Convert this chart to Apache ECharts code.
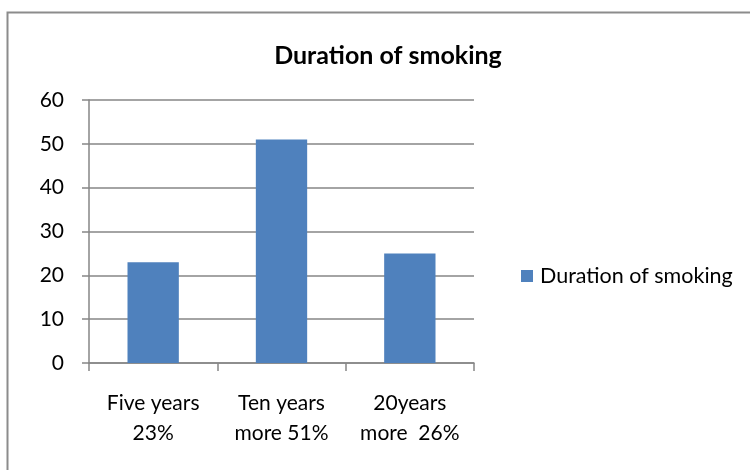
<!DOCTYPE html>
<html>
<head>
<meta charset="utf-8">
<script src="https://cdn.jsdelivr.net/npm/echarts@6/dist/echarts.min.js"></script>
<style>
  html, body { margin: 0; padding: 0; background: #fff; }
  #chart { width: 750px; height: 470px; }
</style>
</head>
<body>
<div id="chart"></div>
<script>
const categories = ['Five years\n23%', 'Ten years\nmore 51%', '20years\nmore  26%']
const seriesName = 'Duration of smoking'
const values = [23, 51, 25]
const yTicks = [0, 10, 20, 30, 40, 50, 60]

const font = 'Lato, "Open Sans", sans-serif'
const chart = echarts.init(document.getElementById('chart'))

chart.setOption({
  animation: false,
  textStyle: { fontFamily: font },
  graphic: [{
    type: 'rect',
    shape: { x: 7.5, y: 12.5, width: 800, height: 500 },
    style: { fill: 'none', stroke: '#8c8c8c', lineWidth: 2 },
    silent: true
  }],
  title: {
    text: seriesName,
    left: 383,
    textAlign: 'center',
    top: 38,
    textStyle: { fontFamily: font, fontSize: 25, fontWeight: 'bold', color: '#000' }
  },
  legend: {
    left: 516,
    top: 260,
    itemWidth: 12,
    itemHeight: 12,
    icon: 'rect',
    itemGap: 8,
    textStyle: { fontFamily: font, fontSize: 21.5, color: '#000', padding: [0, 0, 0, 2] },
    data: [seriesName]
  },
  grid: { left: 89, right: 276, top: 100, bottom: 107 },
  xAxis: {
    type: 'category',
    data: categories,
    axisLine: { lineStyle: { color: '#868686', width: 1.5 } },
    axisTick: { show: true, length: 8, lineStyle: { color: '#868686', width: 1.5 } },
    axisLabel: { fontFamily: font, fontSize: 21, color: '#000', lineHeight: 30, margin: 25, interval: 0 }
  },
  yAxis: {
    type: 'value',
    min: yTicks[0],
    max: yTicks[yTicks.length - 1],
    interval: 10,
    axisLine: { show: true, lineStyle: { color: '#868686', width: 1.5 } },
    axisTick: { show: true, length: 7, lineStyle: { color: '#868686', width: 1.5 } },
    axisLabel: { fontFamily: font, fontSize: 21, color: '#000', margin: 25 },
    splitLine: { lineStyle: { color: '#868686', width: 1.5 } }
  },
  series: [{
    name: seriesName,
    type: 'bar',
    data: values,
    barWidth: '40%',
    itemStyle: { color: '#4F81BD' }
  }]
})
</script>
</body>
</html>
